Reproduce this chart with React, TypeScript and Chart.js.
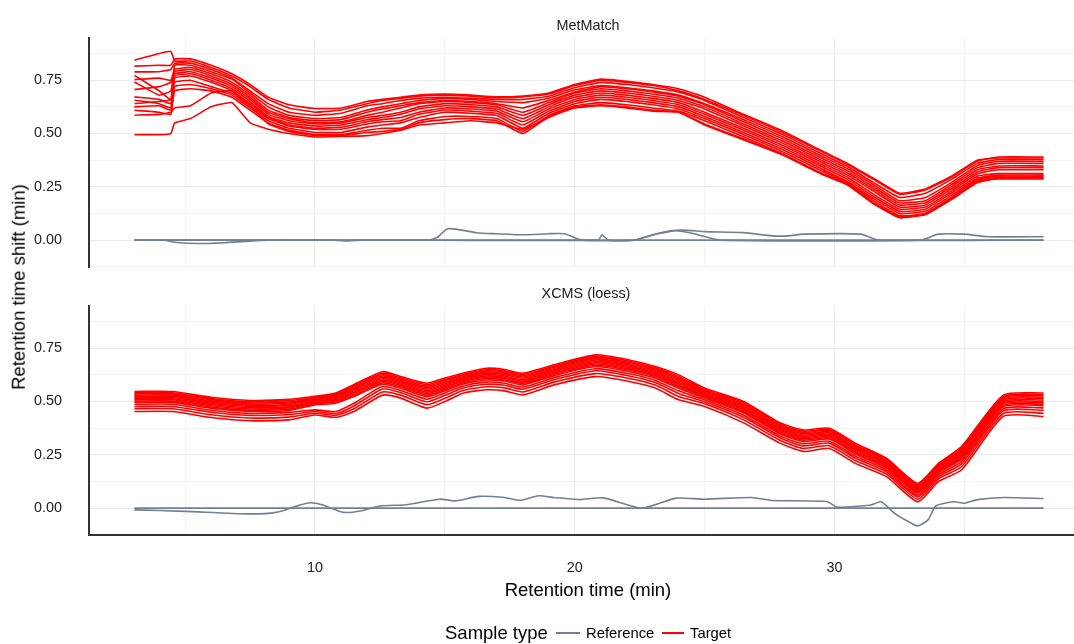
import React, { useEffect, useRef } from 'react';
import { Chart, registerables } from 'chart.js';

Chart.register(...registerables);

// ---------- axis ticks ----------
const xTickValues = [5, 10, 15, 20, 25, 30, 35];
const xTickLabels = [10, 20, 30];
const yTickValues = [-0.125, 0, 0.125, 0.25, 0.375, 0.5, 0.625, 0.75, 0.875];
const yTickLabels = [0, 0.25, 0.5, 0.75];
const panelTitles = ['MetMatch', 'XCMS (loess)'];

// ---------- MetMatch panel ----------
const metX = [3.05, 4.0, 4.45, 4.6, 5.2, 6.0, 6.8, 7.5, 8.2, 9.0, 10.0, 11.0, 12.0, 12.6, 13.3, 14.0, 15.0, 16.0, 17.0, 18.0, 19.0, 20.0, 21.0, 22.0, 23.0, 24.0, 25.0, 26.5, 28.0, 29.5, 30.5, 31.5, 32.5, 33.5, 34.5, 35.5, 36.3, 38.05];
const metTarget01 = [0.844, 0.875, 0.885, 0.84, 0.84, 0.81, 0.77, 0.72, 0.66, 0.62, 0.6, 0.61, 0.64, 0.655, 0.665, 0.675, 0.68, 0.675, 0.668, 0.672, 0.685, 0.725, 0.75, 0.74, 0.725, 0.7, 0.66, 0.585, 0.505, 0.415, 0.355, 0.285, 0.215, 0.235, 0.295, 0.37, 0.39, 0.39];
const metTarget02 = [0.816, 0.82, 0.82, 0.85, 0.85, 0.82, 0.78, 0.73, 0.67, 0.635, 0.617, 0.62, 0.65, 0.66, 0.67, 0.68, 0.685, 0.68, 0.672, 0.676, 0.69, 0.73, 0.755, 0.745, 0.73, 0.71, 0.67, 0.59, 0.512, 0.42, 0.36, 0.29, 0.22, 0.24, 0.3, 0.375, 0.385, 0.385];
const metTarget03 = [0.789, 0.79, 0.8, 0.83, 0.83, 0.8, 0.76, 0.7, 0.64, 0.6, 0.585, 0.595, 0.63, 0.64, 0.655, 0.665, 0.67, 0.665, 0.66, 0.66, 0.675, 0.715, 0.74, 0.73, 0.715, 0.695, 0.655, 0.575, 0.495, 0.405, 0.345, 0.27, 0.2, 0.22, 0.285, 0.36, 0.378, 0.378];
const metTarget04 = [0.773, 0.7, 0.66, 0.82, 0.82, 0.79, 0.755, 0.69, 0.625, 0.585, 0.57, 0.575, 0.61, 0.625, 0.64, 0.655, 0.665, 0.66, 0.65, 0.645, 0.665, 0.705, 0.725, 0.715, 0.7, 0.68, 0.64, 0.565, 0.485, 0.395, 0.335, 0.26, 0.185, 0.2, 0.27, 0.35, 0.37, 0.37];
const metTarget05 = [0.753, 0.76, 0.75, 0.8, 0.81, 0.78, 0.74, 0.68, 0.61, 0.575, 0.56, 0.565, 0.6, 0.615, 0.63, 0.645, 0.655, 0.65, 0.64, 0.62, 0.655, 0.695, 0.72, 0.71, 0.695, 0.675, 0.635, 0.555, 0.475, 0.385, 0.325, 0.25, 0.175, 0.185, 0.26, 0.34, 0.36, 0.36];
const metTarget06 = [0.742, 0.68, 0.7, 0.79, 0.8, 0.77, 0.73, 0.67, 0.6, 0.57, 0.55, 0.555, 0.585, 0.6, 0.62, 0.64, 0.65, 0.645, 0.635, 0.6, 0.645, 0.69, 0.71, 0.7, 0.685, 0.665, 0.625, 0.545, 0.465, 0.375, 0.315, 0.24, 0.165, 0.175, 0.25, 0.33, 0.348, 0.348];
const metTarget07 = [0.706, 0.72, 0.74, 0.78, 0.79, 0.76, 0.72, 0.66, 0.59, 0.56, 0.545, 0.55, 0.575, 0.585, 0.6, 0.625, 0.64, 0.635, 0.625, 0.585, 0.635, 0.68, 0.7, 0.69, 0.675, 0.655, 0.615, 0.535, 0.455, 0.365, 0.305, 0.23, 0.155, 0.165, 0.24, 0.32, 0.34, 0.34];
const metTarget08 = [0.672, 0.66, 0.64, 0.77, 0.78, 0.75, 0.71, 0.65, 0.58, 0.55, 0.535, 0.54, 0.565, 0.575, 0.59, 0.615, 0.63, 0.625, 0.615, 0.57, 0.625, 0.67, 0.69, 0.68, 0.665, 0.645, 0.6, 0.525, 0.445, 0.355, 0.295, 0.215, 0.145, 0.155, 0.23, 0.31, 0.33, 0.33];
const metTarget09 = [0.656, 0.64, 0.62, 0.76, 0.77, 0.74, 0.7, 0.64, 0.575, 0.54, 0.525, 0.53, 0.555, 0.565, 0.575, 0.6, 0.62, 0.615, 0.605, 0.555, 0.615, 0.66, 0.68, 0.67, 0.655, 0.635, 0.59, 0.515, 0.435, 0.345, 0.285, 0.205, 0.135, 0.145, 0.22, 0.3, 0.312, 0.312];
const metTarget10 = [0.64, 0.65, 0.66, 0.74, 0.75, 0.72, 0.69, 0.63, 0.57, 0.535, 0.52, 0.52, 0.545, 0.555, 0.56, 0.59, 0.61, 0.605, 0.595, 0.54, 0.605, 0.65, 0.67, 0.66, 0.645, 0.625, 0.58, 0.505, 0.425, 0.335, 0.275, 0.195, 0.125, 0.135, 0.21, 0.29, 0.305, 0.305];
const metTarget11 = [0.625, 0.63, 0.61, 0.72, 0.73, 0.71, 0.68, 0.62, 0.56, 0.525, 0.505, 0.505, 0.53, 0.54, 0.55, 0.575, 0.6, 0.595, 0.585, 0.525, 0.595, 0.64, 0.66, 0.65, 0.635, 0.615, 0.57, 0.495, 0.415, 0.325, 0.27, 0.185, 0.115, 0.125, 0.2, 0.285, 0.3, 0.3];
const metTarget12 = [0.609, 0.6, 0.59, 0.7, 0.71, 0.7, 0.67, 0.61, 0.55, 0.515, 0.495, 0.495, 0.515, 0.525, 0.525, 0.56, 0.58, 0.58, 0.57, 0.51, 0.585, 0.63, 0.645, 0.635, 0.62, 0.605, 0.56, 0.485, 0.405, 0.315, 0.265, 0.175, 0.11, 0.12, 0.195, 0.28, 0.295, 0.295];
const metTarget13 = [0.586, 0.59, 0.6, 0.62, 0.63, 0.69, 0.7, 0.63, 0.545, 0.51, 0.49, 0.49, 0.505, 0.51, 0.52, 0.55, 0.565, 0.57, 0.56, 0.5, 0.58, 0.625, 0.635, 0.625, 0.61, 0.6, 0.545, 0.475, 0.4, 0.31, 0.26, 0.17, 0.105, 0.12, 0.19, 0.27, 0.29, 0.29];
const metTarget14 = [0.495, 0.495, 0.5, 0.55, 0.57, 0.625, 0.645, 0.55, 0.52, 0.5, 0.484, 0.486, 0.49, 0.5, 0.515, 0.54, 0.55, 0.56, 0.55, 0.52, 0.575, 0.62, 0.63, 0.62, 0.605, 0.6, 0.54, 0.47, 0.4, 0.31, 0.26, 0.175, 0.11, 0.125, 0.195, 0.275, 0.287, 0.287];

const metRefAX = [3.05, 38.05];
const metRefAY = [0, 0];
const metRefBX = [3.05, 4.2, 4.6, 5.5, 6.5, 7.3, 8.2, 14.3, 14.7, 15.1, 15.6, 16.2, 17.0, 18.0, 19.0, 19.6, 20.3, 22.3, 23.2, 24.1, 25.0, 26.5, 27.6, 28.2, 28.8, 31.0, 31.7, 38.05];
const metRefBY = [0, 0, -0.01, -0.016, -0.012, -0.006, 0, 0, 0.012, 0.053, 0.048, 0.035, 0.03, 0.025, 0.03, 0.03, 0, 0, 0.03, 0.047, 0.04, 0.035, 0.02, 0.02, 0.028, 0.028, 0, 0];
const metRefCX = [3.05, 10.7, 11.2, 11.8, 20.9, 21.05, 21.3, 22.3, 23.0, 23.8, 24.6, 25.6, 33.3, 34.0, 35.0, 35.9, 38.05];
const metRefCY = [0, 0, -0.004, 0, 0, 0.025, 0, 0, 0.025, 0.045, 0.03, 0, 0, 0.028, 0.028, 0.016, 0.016];

// ---------- XCMS (loess) panel ----------
const xcmsX = [3.05, 4.5, 6.0, 7.5, 9.0, 10.0, 10.8, 11.5, 12.6, 13.3, 14.3, 15.0, 15.7, 16.6, 17.3, 18.0, 19.2, 20.8, 22.1, 23.1, 24.0, 25.0, 26.5, 27.9, 28.8, 29.8, 30.8, 32.0, 33.2, 34.0, 34.9, 36.5, 38.05];
const xcmsTarget01 = [0.547, 0.547, 0.52, 0.505, 0.51, 0.525, 0.54, 0.58, 0.64, 0.617, 0.586, 0.61, 0.633, 0.656, 0.65, 0.633, 0.672, 0.719, 0.695, 0.664, 0.625, 0.563, 0.5, 0.4, 0.367, 0.375, 0.305, 0.234, 0.117, 0.21, 0.29, 0.53, 0.54];
const xcmsTarget02 = [0.541, 0.541, 0.514, 0.499, 0.504, 0.52, 0.535, 0.574, 0.633, 0.611, 0.579, 0.603, 0.627, 0.65, 0.644, 0.627, 0.666, 0.713, 0.689, 0.658, 0.618, 0.557, 0.494, 0.394, 0.361, 0.369, 0.299, 0.229, 0.112, 0.205, 0.283, 0.524, 0.533];
const xcmsTarget03 = [0.536, 0.536, 0.509, 0.494, 0.498, 0.516, 0.53, 0.568, 0.627, 0.605, 0.572, 0.597, 0.622, 0.644, 0.638, 0.621, 0.661, 0.707, 0.683, 0.652, 0.611, 0.552, 0.488, 0.389, 0.355, 0.364, 0.294, 0.224, 0.107, 0.2, 0.277, 0.518, 0.527];
const xcmsTarget04 = [0.53, 0.53, 0.503, 0.488, 0.493, 0.511, 0.524, 0.562, 0.62, 0.599, 0.565, 0.59, 0.616, 0.638, 0.632, 0.615, 0.655, 0.701, 0.677, 0.646, 0.604, 0.547, 0.482, 0.383, 0.349, 0.358, 0.288, 0.219, 0.101, 0.195, 0.27, 0.512, 0.52];
const xcmsTarget05 = [0.524, 0.524, 0.497, 0.482, 0.487, 0.507, 0.519, 0.556, 0.614, 0.593, 0.558, 0.584, 0.61, 0.632, 0.626, 0.609, 0.649, 0.695, 0.671, 0.64, 0.597, 0.542, 0.476, 0.377, 0.343, 0.352, 0.282, 0.213, 0.096, 0.19, 0.264, 0.506, 0.514];
const xcmsTarget06 = [0.519, 0.519, 0.492, 0.477, 0.481, 0.502, 0.514, 0.549, 0.607, 0.587, 0.551, 0.577, 0.605, 0.626, 0.62, 0.602, 0.644, 0.688, 0.665, 0.634, 0.59, 0.537, 0.47, 0.372, 0.337, 0.347, 0.277, 0.208, 0.091, 0.185, 0.257, 0.5, 0.507];
const xcmsTarget07 = [0.513, 0.513, 0.486, 0.471, 0.475, 0.498, 0.508, 0.543, 0.6, 0.581, 0.544, 0.57, 0.599, 0.62, 0.614, 0.596, 0.638, 0.682, 0.659, 0.628, 0.583, 0.532, 0.464, 0.366, 0.331, 0.341, 0.271, 0.203, 0.086, 0.179, 0.25, 0.494, 0.5];
const xcmsTarget08 = [0.508, 0.508, 0.48, 0.465, 0.47, 0.493, 0.503, 0.537, 0.594, 0.575, 0.537, 0.564, 0.594, 0.614, 0.608, 0.59, 0.633, 0.676, 0.653, 0.622, 0.576, 0.527, 0.458, 0.36, 0.325, 0.335, 0.265, 0.198, 0.08, 0.174, 0.244, 0.488, 0.494];
const xcmsTarget09 = [0.502, 0.502, 0.474, 0.459, 0.464, 0.489, 0.498, 0.53, 0.587, 0.569, 0.53, 0.557, 0.588, 0.608, 0.602, 0.584, 0.627, 0.67, 0.647, 0.616, 0.569, 0.522, 0.452, 0.354, 0.319, 0.329, 0.259, 0.193, 0.075, 0.169, 0.237, 0.482, 0.487];
const xcmsTarget10 = [0.496, 0.496, 0.469, 0.454, 0.458, 0.484, 0.492, 0.524, 0.581, 0.562, 0.523, 0.551, 0.582, 0.601, 0.596, 0.578, 0.621, 0.664, 0.64, 0.609, 0.562, 0.516, 0.446, 0.349, 0.312, 0.324, 0.254, 0.188, 0.07, 0.164, 0.231, 0.476, 0.481];
const xcmsTarget11 = [0.487, 0.487, 0.459, 0.444, 0.449, 0.461, 0.453, 0.492, 0.57, 0.552, 0.511, 0.54, 0.573, 0.591, 0.586, 0.568, 0.612, 0.654, 0.63, 0.599, 0.55, 0.508, 0.436, 0.339, 0.302, 0.314, 0.244, 0.179, 0.061, 0.156, 0.22, 0.466, 0.47];
const xcmsTarget12 = [0.477, 0.477, 0.45, 0.435, 0.439, 0.453, 0.444, 0.479, 0.559, 0.542, 0.499, 0.529, 0.563, 0.581, 0.576, 0.558, 0.602, 0.644, 0.62, 0.589, 0.538, 0.499, 0.426, 0.33, 0.292, 0.305, 0.235, 0.17, 0.053, 0.147, 0.209, 0.456, 0.459];
const xcmsTarget13 = [0.466, 0.466, 0.438, 0.423, 0.427, 0.445, 0.435, 0.466, 0.545, 0.53, 0.485, 0.515, 0.552, 0.569, 0.564, 0.545, 0.591, 0.631, 0.608, 0.577, 0.524, 0.489, 0.414, 0.318, 0.28, 0.293, 0.223, 0.16, 0.042, 0.137, 0.195, 0.444, 0.445];
const xcmsTarget14 = [0.453, 0.453, 0.425, 0.41, 0.414, 0.437, 0.426, 0.453, 0.53, 0.516, 0.469, 0.5, 0.539, 0.555, 0.55, 0.531, 0.578, 0.617, 0.594, 0.563, 0.508, 0.477, 0.4, 0.305, 0.266, 0.28, 0.21, 0.148, 0.03, 0.125, 0.18, 0.43, 0.43];

const xcmsRefAX = [3.05, 38.05];
const xcmsRefAY = [0, 0];
const xcmsRefBX = [3.05, 5.0, 7.4, 8.5, 9.3, 9.8, 10.3, 11.1, 11.8, 12.5, 13.5, 14.8, 15.4, 16.3, 17.3, 17.9, 18.6, 19.2, 20.2, 21.1, 22.6, 23.9, 25.0, 26.8, 27.6, 29.7, 30.1, 31.0, 31.4, 31.8, 32.3, 32.8, 33.2, 33.6, 33.9, 34.6, 35.0, 35.5, 36.5, 38.05];
const xcmsRefBY = [-0.008, -0.015, -0.027, -0.02, 0.01, 0.025, 0.015, -0.02, -0.012, 0.01, 0.016, 0.042, 0.034, 0.055, 0.05, 0.036, 0.058, 0.05, 0.04, 0.048, 0, 0.047, 0.042, 0.05, 0.036, 0.031, 0.005, 0.01, 0.015, 0.03, -0.023, -0.06, -0.083, -0.055, 0.01, 0.03, 0.023, 0.04, 0.05, 0.045];

const metTargets = [metTarget01, metTarget02, metTarget03, metTarget04, metTarget05, metTarget06, metTarget07, metTarget08, metTarget09, metTarget10, metTarget11, metTarget12, metTarget13, metTarget14];
const metRefs: [number[], number[]][] = [[metRefAX, metRefAY], [metRefBX, metRefBY], [metRefCX, metRefCY]];
const xcmsTargets = [xcmsTarget01, xcmsTarget02, xcmsTarget03, xcmsTarget04, xcmsTarget05, xcmsTarget06, xcmsTarget07, xcmsTarget08, xcmsTarget09, xcmsTarget10, xcmsTarget11, xcmsTarget12, xcmsTarget13, xcmsTarget14];
const xcmsRefs: [number[], number[]][] = [[xcmsRefAX, xcmsRefAY], [xcmsRefBX, xcmsRefBY]];

// ---------- styling ----------
const FONT = '"Liberation Sans", Arial, Helvetica, sans-serif';
const RED = '#FF0000';
const GRAY = '#708090';
const AXIS_COLOR = '#333333';
const GRID_MAJOR = '#EBEBEB';
const GRID_MINOR = '#F2F2F2';
const X_MIN = 1.3;
const X_MAX = 39.22;
const Y_MIN = -0.126;
const Y_MAX = 0.948;

function toPoints(xs: number[], ys: number[]) {
  return xs.map((x, i) => ({ x, y: ys[i] }));
}

function buildDatasets(xs: number[], targets: number[][], refs: [number[], number[]][], tension: number) {
  const ds: any[] = [];
  targets.forEach((ys) =>
    ds.push({
      data: toPoints(xs, ys),
      borderColor: RED,
      borderWidth: 1.6,
      pointRadius: 0,
      tension,
      fill: false,
    })
  );
  refs.forEach(([rx, ry]) =>
    ds.push({
      data: toPoints(rx, ry),
      borderColor: GRAY,
      borderWidth: 1.6,
      pointRadius: 0,
      tension: 0.2,
      fill: false,
    })
  );
  return ds;
}

function panelOptions(showX: boolean, padTop: number, padBottom: number, xAxisHeight: number): any {
  return {
    animation: false,
    responsive: false,
    maintainAspectRatio: false,
    events: [],
    layout: { padding: { top: padTop, bottom: padBottom, left: 0, right: 0 } },
    plugins: { legend: { display: false }, tooltip: { enabled: false }, title: { display: false } },
    scales: {
      x: {
        type: 'linear',
        min: X_MIN,
        max: X_MAX,
        afterBuildTicks: (s: any) => {
          s.ticks = xTickValues.map((v) => ({ value: v }));
        },
        afterFit: (s: any) => {
          s.height = xAxisHeight;
          s.paddingLeft = 0;
          s.paddingRight = 0;
        },
        grid: {
          drawTicks: false,
          color: (c: any) => (c.tick && c.tick.value % 10 === 0 ? GRID_MAJOR : GRID_MINOR),
          lineWidth: 1,
        },
        border: { display: showX, color: AXIS_COLOR, width: 2 },
        ticks: {
          display: showX,
          autoSkip: false,
          maxRotation: 0,
          padding: 24,
          color: '#222222',
          font: { family: FONT, size: 14.4 },
          callback: (v: any) => (xTickLabels.includes(v) ? String(v) : ''),
        },
      },
      y: {
        type: 'linear',
        min: Y_MIN,
        max: Y_MAX,
        afterBuildTicks: (s: any) => {
          s.ticks = yTickValues.map((v) => ({ value: v }));
        },
        afterFit: (s: any) => {
          s.width = 89;
          s.paddingTop = 0;
          s.paddingBottom = 0;
        },
        grid: {
          drawTicks: false,
          color: (c: any) => {
            const v = c.tick ? c.tick.value : 0;
            return Math.abs(v * 4 - Math.round(v * 4)) < 1e-9 ? GRID_MAJOR : GRID_MINOR;
          },
          lineWidth: 1,
        },
        border: { display: true, color: AXIS_COLOR, width: 2 },
        ticks: {
          autoSkip: false,
          padding: 27,
          color: '#222222',
          font: { family: FONT, size: 14.4 },
          callback: (v: any) => (yTickLabels.includes(v) ? Number(v).toFixed(2) : ''),
        },
      },
    },
  };
}

function Panel(props: { top: number; height: number; datasets: any[]; options: any }) {
  const ref = useRef<HTMLCanvasElement>(null);
  useEffect(() => {
    const chart = new Chart(ref.current as HTMLCanvasElement, {
      type: 'line',
      data: { datasets: props.datasets },
      options: props.options,
    });
    return () => chart.destroy();
  }, []);
  return (
    <canvas
      ref={ref}
      width={1074}
      height={props.height}
      style={{ position: 'absolute', left: 0, top: props.top, width: 1074, height: props.height }}
    />
  );
}

const textBase: React.CSSProperties = {
  position: 'absolute',
  fontFamily: FONT,
  whiteSpace: 'nowrap',
  lineHeight: 1,
};

export default function App() {
  const metData = buildDatasets(metX, metTargets, metRefs, 0.12);
  const xcmsData = buildDatasets(xcmsX, xcmsTargets, xcmsRefs, 0.2);
  return (
    <div style={{ position: 'fixed', left: 0, top: 0, width: 1074, height: 644, background: '#ffffff', overflow: 'hidden' }}>
      <Panel top={0} height={280} datasets={metData} options={panelOptions(false, 38, 13, 0)} />
      <Panel top={280} height={330} datasets={xcmsData} options={panelOptions(true, 26, 0, 75)} />

      <div style={{ ...textBase, left: 588, top: 25, transform: 'translate(-50%, -50%)', fontSize: 14.4, color: '#1a1a1a' }}>
        {panelTitles[0]}
      </div>
      <div style={{ ...textBase, left: 586, top: 293, transform: 'translate(-50%, -50%)', fontSize: 14.4, color: '#1a1a1a' }}>
        {panelTitles[1]}
      </div>

      <div
        style={{ ...textBase, left: 19, top: 287, transform: 'translate(-50%, -50%) rotate(-90deg)', fontSize: 18.5, color: '#000' }}
      >
        Retention time shift (min)
      </div>
      <div style={{ ...textBase, left: 588, top: 590, transform: 'translate(-50%, -50%)', fontSize: 18.5, color: '#000' }}>
        Retention time (min)
      </div>

      <div style={{ ...textBase, left: 445, top: 633, transform: 'translateY(-50%)', fontSize: 18.5, color: '#000' }}>
        Sample type
      </div>
      <div style={{ position: 'absolute', left: 556, top: 632, width: 24, height: 2, background: GRAY }} />
      <div style={{ ...textBase, left: 586, top: 633, transform: 'translateY(-50%)', fontSize: 14.8, color: '#000' }}>
        Reference
      </div>
      <div style={{ position: 'absolute', left: 662, top: 632, width: 22, height: 2, background: RED }} />
      <div style={{ ...textBase, left: 690, top: 633, transform: 'translateY(-50%)', fontSize: 14.8, color: '#000' }}>
        Target
      </div>
    </div>
  );
}
